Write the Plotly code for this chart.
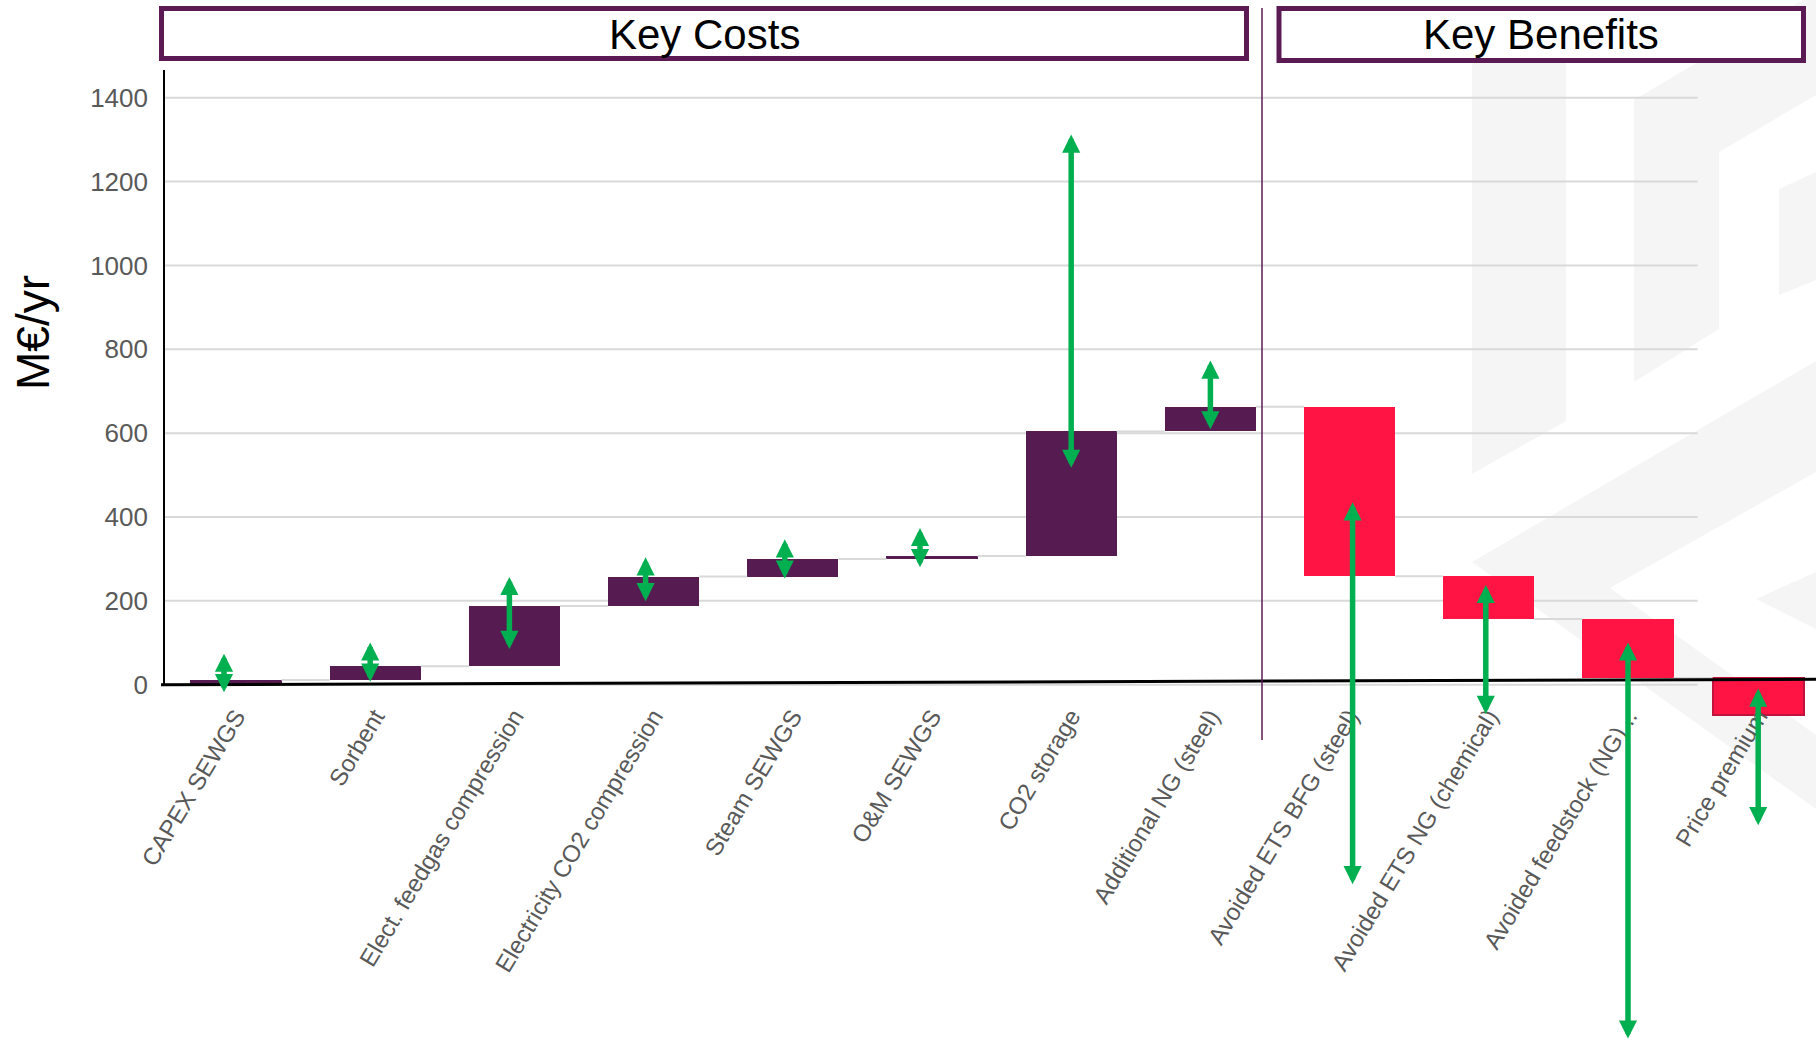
import plotly.graph_objects as go

# ---------------- data ----------------
categories = [
    "CAPEX SEWGS", "Sorbent", "Elect. feedgas compression",
    "Electricity CO2 compression", "Steam SEWGS", "O&M SEWGS",
    "CO2 storage", "Additional NG (steel)", "Avoided ETS BFG (steel)",
    "Avoided ETS NG (chemical)", "Avoided feedstock (NG)...", "Price premium",
]
deltas = [11, 33, 144, 70, 42, 7, 297, 59, -404, -102, -141, -88]
range_low = [-19, 6, 84, 198, 252, 279, 516, 608, -477, -71, -845, -336]
range_high = [74, 101, 257, 304, 347, 374, 1312, 773, 435, 238, 101, -9]
y_tick_values = [0, 200, 400, 600, 800, 1000, 1200, 1400]
section_titles = ["Key Costs", "Key Benefits"]
y_title = "M€/yr"

# ---------------- styling / geometry ----------------
W, H = 1816, 1042
ML, MR, MT, MB = 165, 0, 70, 0
PW, PH = W - ML - MR, H - MT - MB
PURPLE = "#561c51"
RED = "#ff1443"
GREEN = "#00b050"
GRID = "#d9d9d9"
FONT = "Liberation Sans, Arial, sans-serif"
BAR_W = 0.655
UNIT_PX = 139.2
XMIN = -0.51
XMAX = XMIN + PW / UNIT_PX
YMAX = 1466
YMIN = -852
# small horizontal offsets (pixels) of the hand-placed arrows / last bar in the original
arrow_dx_px = [-12, -5, -5, -8, -8, -12, 0, 0, 3, -3, 0, 0]
last_bar_shift_px = -9


def px(x):
    return (x - ML) / PW


def py(y):
    return (H - MB - y) / PH


idx = list(range(len(categories)))
xpos = [i + (last_bar_shift_px / UNIT_PX if i == len(idx) - 1 else 0) for i in idx]
bases = []
cum = 0
for d in deltas:
    bases.append(cum)
    cum += d
ends = [b + d for b, d in zip(bases, deltas)]

colors = [PURPLE if d >= 0 else RED for d in deltas]
line_w = [2 if i == len(deltas) - 1 else 0 for i in idx]
line_c = ["#c0143c" if i == len(deltas) - 1 else "rgba(0,0,0,0)" for i in idx]

fig = go.Figure()

# connectors
cx, cy = [], []
for i in range(len(deltas) - 1):
    cx += [xpos[i] + BAR_W / 2, xpos[i + 1] - BAR_W / 2, None]
    cy += [ends[i], ends[i], None]
fig.add_trace(go.Scatter(x=cx, y=cy, mode="lines",
                         line=dict(color=GRID, width=2),
                         hoverinfo="skip", showlegend=False))

fig.add_trace(go.Bar(
    x=xpos, y=deltas, base=bases, width=BAR_W,
    marker=dict(color=colors, line=dict(width=line_w, color=line_c)),
    showlegend=False,
))

shapes = []
# watermark
WM = "#f5f5f5"
polys = [
    [(1472, 60), (1566, 60), (1566, 421), (1472, 474)],
    [(1634, 100), (1816, -8), (1816, 95), (1719, 152), (1719, 329), (1634, 382)],
    [(1779, 189), (1816, 172), (1816, 280), (1779, 295)],
    [(1816, 361), (1472, 562), (1816, 809), (1816, 735), (1610, 588), (1816, 472)],
    [(1816, 572), (1756, 599), (1816, 629)],
]
for poly in polys:
    path = "M " + " L ".join(f"{px(a):.5f},{py(b):.5f}" for a, b in poly) + " Z"
    shapes.append(dict(type="path", xref="paper", yref="paper", path=path,
                       fillcolor=WM, line=dict(width=0), layer="below"))

# gridlines (original plot area ends after the 11th category)
for v in y_tick_values:
    shapes.append(dict(type="line", xref="x", yref="y", x0=XMIN, x1=10.5,
                       y0=v, y1=v, line=dict(color=GRID, width=2), layer="below"))

# y axis line (positive part only)
shapes.append(dict(type="line", xref="paper", yref="y", x0=px(164), x1=px(164),
                   y0=0, y1=YMAX, line=dict(color="black", width=2)))
# zero line (slightly tilted as in the original)
shapes.append(dict(type="line", xref="paper", yref="y", x0=px(161), x1=px(1816),
                   y0=0, y1=13, line=dict(color="black", width=3)))
# separator
shapes.append(dict(type="line", xref="paper", yref="paper", x0=px(1262), x1=px(1262),
                   y0=py(8), y1=py(740), line=dict(color="#5c1a55", width=1.5)))
# section boxes
box_specs = [(161.5, 1246.5, 8.5, 58.5), (1279, 1803.5, 8.5, 60.5)]
for (x0, x1, y0, y1) in box_specs:
    shapes.append(dict(type="rect", xref="paper", yref="paper",
                       x0=px(x0), x1=px(x1), y0=py(y0), y1=py(y1),
                       fillcolor="white", line=dict(color="#5c1a55", width=5)))

annotations = []
for title, (x0, x1, y0, y1) in zip(section_titles, box_specs):
    annotations.append(dict(xref="paper", yref="paper", x=px((x0 + x1) / 2), y=py(35),
                            text=title, showarrow=False, xanchor="center", yanchor="middle",
                            font=dict(family=FONT, size=42, color="black")))
annotations.append(dict(xref="paper", yref="paper", x=px(33), y=py(333), text=y_title,
                        textangle=-90, showarrow=False, xanchor="center", yanchor="middle",
                        font=dict(family=FONT, size=46, color="black")))

# uncertainty arrows
for i in idx:
    xa = xpos[i] + arrow_dx_px[i] / UNIT_PX
    annotations.append(dict(
        x=xa, y=range_high[i], ax=xa, ay=range_low[i], xref="x", yref="y",
        axref="x", ayref="y", text="", showarrow=True,
        arrowhead=2, startarrowhead=2, arrowside="end+start",
        arrowsize=0.66, startarrowsize=0.66, arrowwidth=5.5, arrowcolor=GREEN,
        standoff=0, startstandoff=0, font=dict(size=1), borderpad=0,
    ))

fig.update_layout(
    width=W, height=H,
    margin=dict(l=ML, r=MR, t=MT, b=MB, pad=0),
    paper_bgcolor="white", plot_bgcolor="white",
    showlegend=False, bargap=0,
    shapes=shapes, annotations=annotations,
    font=dict(family=FONT),
    xaxis=dict(range=[XMIN, XMAX], tickmode="array", tickvals=xpos, ticktext=categories,
               tickangle=-59, anchor="free", position=(0 - YMIN) / (YMAX - YMIN),
               showgrid=False, zeroline=False, showline=False, ticks="",
               tickfont=dict(family=FONT, size=24, color="#595959"),
               ticklabelstandoff=12),
    yaxis=dict(range=[YMIN, YMAX], tickmode="array", tickvals=y_tick_values,
               showgrid=False, zeroline=False, showline=False, ticks="",
               tickfont=dict(family=FONT, size=26, color="#595959"),
               ticklabelstandoff=16),
)

fig.write_html("out.html")
